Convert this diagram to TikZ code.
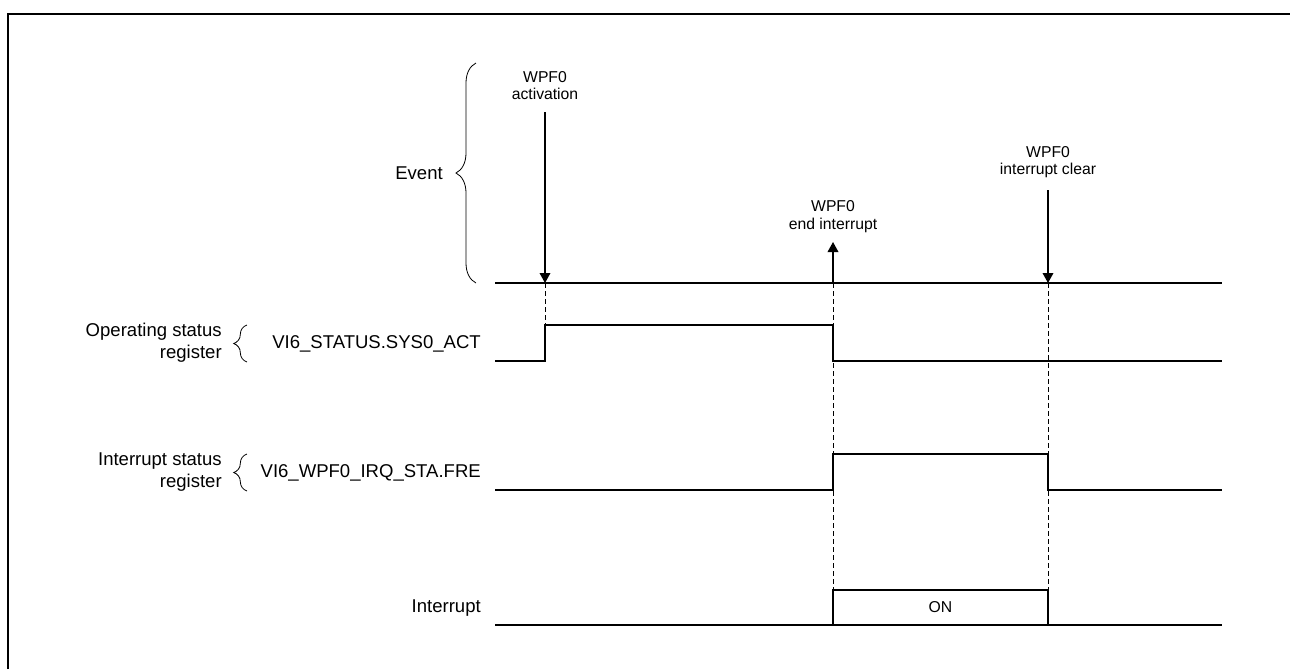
\documentclass[tikz,border=0pt]{standalone}
\usepackage{fontspec}
\setmainfont{Liberation Sans}
\usetikzlibrary{arrows.meta,positioning,decorations.pathreplacing}
\tikzset{
  wave/.style={line width=1.1pt, line join=miter},
  guide/.style={line width=0.7pt, dash pattern=on 3.75pt off 2.25pt},
  evarrow/.style={-{Triangle[length=7.5pt,width=8pt]}, line width=1pt},
  lbl/.style={font=\fontsize{13.9}{16.5}\selectfont, align=right, inner sep=0pt},
  evlbl/.style={font=\fontsize{11.8}{13}\selectfont, align=center, inner sep=0pt},
  regbrace/.style={decorate, decoration={brace, amplitude=10pt}, line width=0.6pt},
  evbrace/.style={decorate, decoration={brace, amplitude=15pt}, line width=0.6pt}
}
\begin{document}
\begin{tikzpicture}[x=0.75pt, y=-0.75pt]
  \useasboundingbox (0,0) rectangle (1290,669);
  % frame
  \draw[line width=1.7pt] (8,669) -- (8,14) -- (1290,14);

  % time points on the event line
  \coordinate (a1) at (545,283);
  \coordinate (b1) at (833,283);
  \coordinate (c1) at (1048,283);
  \coordinate (a0) at (545,112);
  \coordinate (b0) at (833,242);
  \coordinate (c0) at (1048,190);

  % dashed guides
  \draw[guide] (a1) -- (545,325);
  \draw[guide] (b1) -- (833,590);
  \draw[guide] (c1) -- (1048,590);

  % event line and arrows
  \draw[wave] (495,283) -- (1222,283);
  \draw[evarrow] (a0) -- (a1);
  \draw[evarrow] (b1) -- (b0);
  \draw[evarrow] (c0) -- (c1);
  \node[evlbl, above=9pt of a0] (actlbl) {WPF0\\activation};
  \node[evlbl, above=7pt of b0] (endlbl) {WPF0\\end interrupt};
  \node[evlbl, above=9pt of c0] (clrlbl) {WPF0\\interrupt clear};
  \node[lbl, anchor=east] (event) at (443,173) {Event};
  \draw[evbrace] (476,283) -- (476,63);

  % operating status register
  \node[lbl, anchor=east] (opreg) at (222,343) {Operating status\\register};
  \draw[regbrace] (247,362) -- (247,325);
  \node[lbl, anchor=east] (opsig) at (481,344) {VI6\_STATUS.SYS0\_ACT};
  \draw[wave] (495,361) -- (545,361) -- (545,325) -- (833,325) -- (833,361) -- (1222,361);

  % interrupt status register
  \node[lbl, anchor=east] (irqreg) at (222,472) {Interrupt status\\register};
  \draw[regbrace] (247,491) -- (247,454);
  \node[lbl, anchor=east] (irqsig) at (481,473) {VI6\_WPF0\_IRQ\_STA.FRE};
  \draw[wave] (495,490) -- (833,490) -- (833,454) -- (1048,454) -- (1048,490) -- (1222,490);

  % interrupt
  \node[lbl, anchor=east] (intr) at (481,608) {Interrupt};
  \draw[wave] (495,625) -- (1222,625);
  \draw[wave] (833,625) rectangle (1048,590);
  \node[evlbl] (on) at (940.5,607.5) {ON};
\end{tikzpicture}
\end{document}
